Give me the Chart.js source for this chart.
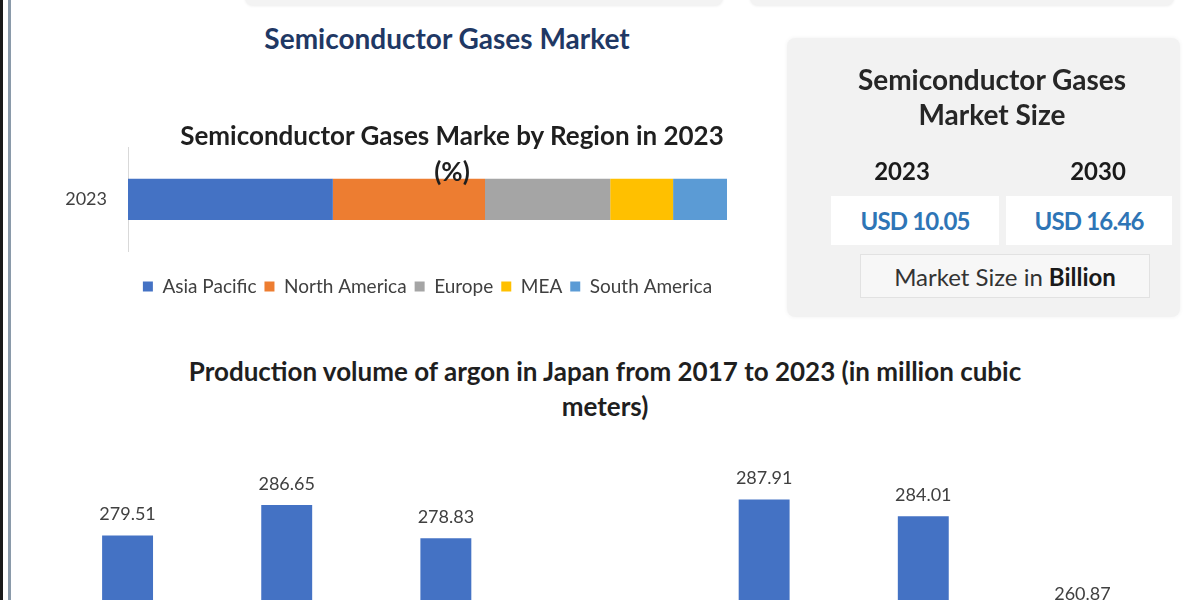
<!DOCTYPE html>
<html>
<head>
<meta charset="utf-8">
<title>Semiconductor Gases Market</title>
<script src="https://cdn.jsdelivr.net/npm/chart.js@4/dist/chart.umd.min.js"></script>
<style>
  html, body {
    margin: 0;
    padding: 0;
    width: 1200px;
    height: 600px;
    overflow: hidden;
    background: #ffffff;
    font-family: "Lato", "DejaVu Sans", sans-serif;
  }
  .abs { position: absolute; }
  .edge-dark { left: 0; top: 0; width: 3px; height: 600px; background: #1a1a1a; }
  .edge-line { left: 8px; top: 0; width: 3px; height: 600px; background: #8a9aaa; }
  .top-card {
    top: -10px; height: 15px; background: #f3f3f3;
    border-radius: 8px; box-shadow: 0 1px 3px rgba(0,0,0,0.08);
  }
  .heading {
    left: 150px; width: 594px; top: 21px; text-align: center; line-height: 34px;
    font-size: 28px; font-weight: 700; color: #1f3864;
  }
  .chart-title {
    text-align: center; font-weight: 700; color: #1f1f1f;
  }
  .panel {
    left: 787px; top: 38px; width: 393px; height: 279px;
    background: #f2f2f2; border-radius: 8px;
    box-shadow: 0 0 4px rgba(0,0,0,0.06);
  }
  .panel-title {
    left: 787px; width: 410px; top: 62px; text-align: center;
    font-size: 28px; font-weight: 700; color: #262626; line-height: 35px;
  }
  .year { top: 156px; font-size: 24px; font-weight: 700; color: #1a1a1a; text-align: center; width: 100px; }
  .usd-box {
    top: 196px; height: 49px; background: #ffffff;
    display: flex; align-items: center; justify-content: center;
    font-size: 24px; font-weight: 700; color: #2e75b6; letter-spacing: -0.8px;
  }
  .unit-box {
    left: 860px; top: 254px; width: 288px; height: 42px;
    background: #f7f7f7; border: 1px solid #e2e2e2;
    display: flex; align-items: center; justify-content: center;
    font-size: 24px; color: #333333;
  }
  .unit-box b { margin-left: 6px; color: #1a1a1a; }
</style>
</head>
<body>
<div class="abs edge-dark"></div>
<div class="abs edge-line"></div>
<div class="abs top-card" style="left:245px; width:478px;"></div>
<div class="abs top-card" style="left:750px; width:424px;"></div>

<div class="abs heading">Semiconductor Gases Market</div>

<div class="abs" style="left:40px; top:124px; width:720px; height:182px;">
  <canvas id="regionChart"></canvas>
</div>
<div class="abs chart-title" style="left:102px; width:700px; top:117px; font-size:26px; line-height:36px;">
  Semiconductor Gases Marke by Region in 2023<br>(%)
</div>

<div class="abs panel"></div>
<div class="abs panel-title">Semiconductor Gases<br>Market Size</div>
<div class="abs year" style="left:852px;">2023</div>
<div class="abs year" style="left:1048px;">2030</div>
<div class="abs usd-box" style="left:831px; width:168px;">USD 10.05</div>
<div class="abs usd-box" style="left:1006px; width:166px;">USD 16.46</div>
<div class="abs unit-box">Market Size in <b>Billion</b></div>

<div class="abs chart-title" style="left:50px; width:1110px; top:354px; font-size:26px; line-height:35px;">
  Production volume of argon in Japan from 2017 to 2023 (in million cubic<br>meters)
</div>
<div class="abs" style="left:48px; top:448px; width:1114px; height:256px;">
  <canvas id="argonChart"></canvas>
</div>

<script>
// Market share by region, 2023 (%)
const regionYear = ["2023"];
const regionNames = ["Asia Pacific", "North America", "Europe", "MEA", "South America"];
const regionShares = [34.2, 25.4, 20.9, 10.5, 9.0];
const regionColors = ["#4472c4", "#ed7d31", "#a5a5a5", "#ffc000", "#5b9bd5"];

// Argon production in Japan (million cubic meters)
const argonYears = ["2017", "2018", "2019", "2020", "2021", "2022", "2023"];
const argonVolumes = [279.51, 286.65, 278.83, 253.0, 287.91, 284.01, 260.87];

Chart.defaults.font.family = "Lato";
Chart.defaults.animation = false;

// stacked horizontal bar
new Chart(document.getElementById("regionChart"), {
  type: "bar",
  data: {
    labels: regionYear,
    datasets: regionNames.map((name, i) => ({
      label: name,
      data: [regionShares[i]],
      backgroundColor: regionColors[i],
      borderWidth: 0,
      categoryPercentage: 1,
      barPercentage: 0.4,
    })),
  },
  options: {
    indexAxis: "y",
    responsive: true,
    maintainAspectRatio: false,
    layout: { padding: { top: 0, right: 33, bottom: 0, left: 0 } },
    scales: {
      x: {
        stacked: true,
        min: 0,
        max: 100,
        grid: { display: false },
        border: { display: false },
        ticks: { display: false },
        afterFit: (scale) => { scale.height = 18; },
      },
      y: {
        stacked: true,
        grid: { display: false },
        border: { color: "#d9d9d9", width: 1 },
        ticks: { color: "#404040", font: { size: 18 }, padding: 13 },
        afterFit: (scale) => { scale.width = 88; },
      },
    },
    plugins: {
      tooltip: { enabled: false },
      legend: {
        position: "bottom",
        fullSize: false,
        labels: {
          boxWidth: 10,
          boxHeight: 10,
          padding: 8,
          color: "#404040",
          font: { size: 19 },
        },
      },
    },
  },
});

// value labels above the columns
const barValueLabels = {
  id: "barValueLabels",
  afterDatasetsDraw(chart) {
    const ctx = chart.ctx;
    const meta = chart.getDatasetMeta(0);
    const values = chart.data.datasets[0].data;
    ctx.save();
    ctx.font = "18px Lato";
    ctx.fillStyle = "#404040";
    ctx.textAlign = "center";
    ctx.textBaseline = "middle";
    meta.data.forEach((bar, i) => {
      ctx.fillText(values[i].toFixed(2), bar.x, bar.y - 21);
    });
    ctx.restore();
  },
};

new Chart(document.getElementById("argonChart"), {
  type: "bar",
  data: {
    labels: argonYears,
    datasets: [
      {
        label: "Argon production",
        data: argonVolumes,
        backgroundColor: "#4472c4",
        borderWidth: 0,
        categoryPercentage: 1,
        barPercentage: 0.32,
      },
    ],
  },
  options: {
    responsive: true,
    maintainAspectRatio: false,
    layout: { padding: 0 },
    scales: {
      x: { display: false },
      y: { display: false, min: 240, max: 300 },
    },
    plugins: {
      legend: { display: false },
      tooltip: { enabled: false },
    },
  },
  plugins: [barValueLabels],
});
</script>
</body>
</html>
